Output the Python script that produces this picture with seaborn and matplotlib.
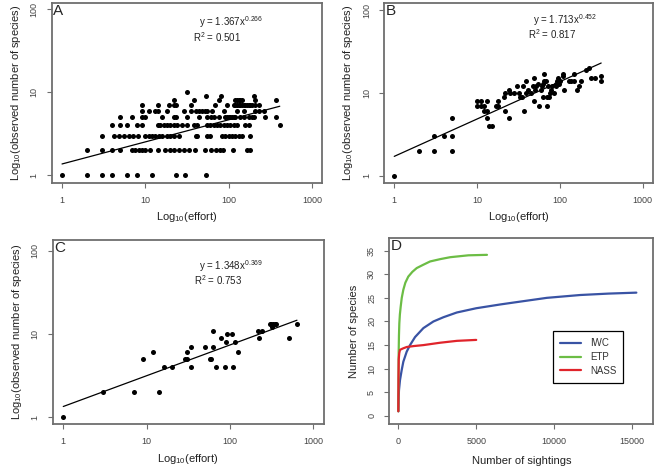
import numpy as np
import pandas as pd
import matplotlib
matplotlib.use('Agg')
import matplotlib.pyplot as plt
import seaborn as sns

# ---- data ----
# panel A: effort values grouped by observed species count
a_rows = {
    1: [1, 2, 3, 4, 6, 8, 12, 23, 30, 53],
    2: [2, 3, 4, 5, 7, 7.6, 8.3, 9, 10, 11.5, 14, 17.4, 20, 22, 25, 29, 33, 39, 52,
        61, 71, 79, 86, 113, 166, 179],
    3: [3, 4.2, 4.8, 5.5, 6.3, 7.2, 8.2, 10, 11, 12, 13, 14.5, 15.8, 18.2, 20, 22, 25,
        40, 42, 55, 59, 83, 91, 100, 110, 120, 132, 145, 182],
    4: [4, 5, 6, 8, 9, 14, 15, 16.6, 18, 20, 22, 24, 27.5, 31.6, 38, 42, 55, 60, 66,
        72, 79, 87, 95, 105, 115, 126, 158, 174, 410],
    5: [5, 7, 9, 9.8, 15.8, 22, 23.5, 31.6, 44, 55, 62, 66, 76, 91, 95, 100, 105, 110,
        115, 120, 138, 151, 174, 191, 200, 275, 372],
    6: [9, 11, 13, 14, 18, 29, 35, 40, 44, 48, 52, 55, 63, 87, 126, 151, 209, 229, 263],
    7: [9, 14, 19, 22, 23, 35, 69, 95, 115, 120, 126, 132, 138, 145, 151, 158, 166,
        174, 182, 191, 209, 229],
    8: [22, 38, 76, 120, 126, 132, 138, 145, 209, 372],
    9: [53, 81, 203],
    10: [32],
}

# panel B
effort_b = [1, 2, 3, 3, 4, 5, 5, 5, 10, 10, 11, 11, 12, 12, 13, 13, 13, 14, 15, 17, 18, 18,
            21, 22, 22, 24, 24, 25, 28, 30, 32, 33, 35, 36, 37, 39, 39, 41, 45, 47, 48, 49,
            50, 51, 54, 56, 59, 60, 62, 63, 64, 65, 68, 70, 70, 71, 74, 75, 78, 80, 85, 89,
            90, 93, 95, 98, 100, 110, 110, 112, 129, 135, 148, 150, 162, 170, 178, 205,
            225, 240, 263, 310, 315]
species_b = [1, 2, 2, 3, 3, 2, 3, 5, 7, 8, 8, 7, 7, 6, 8, 6, 5, 4, 4, 7, 7, 8,
             9, 6, 10, 11, 5, 10, 10, 12, 10, 9, 9, 12, 6, 14, 10, 11, 10, 12, 8, 15,
             11, 12, 13, 7, 11, 12, 13, 9, 17, 14, 14, 7, 9, 12, 9, 10, 11, 12, 10, 13,
             12, 14, 15, 13, 14, 17, 16, 11, 14, 14, 17, 14, 11, 12, 14, 19,
             20, 15, 15, 16, 14]

# panel C
effort_c = [1, 3, 7, 9, 12, 14, 16, 20, 29, 31, 31, 34, 34, 50, 57, 60, 62, 62, 68, 78,
            87, 90, 92, 107, 110, 115, 127, 215, 226, 245, 300, 320, 315, 330, 345, 360,
            510, 640]
species_c = [1, 2, 2, 5, 6, 2, 4, 4, 5, 5, 6, 7, 4, 7, 5, 5, 7, 11, 4, 9,
             4, 8, 10, 10, 4, 8, 6, 11, 9, 11, 13, 12, 13, 13, 13, 13,
             9, 13]

# power-law fits (coefficient, exponent, R^2)
fit_a = (1.367, 0.266, 0.501)
fit_b = (1.713, 0.452, 0.817)
fit_c = (1.348, 0.369, 0.753)

# panel D: species accumulation curves
iwc_x = [0, 21, 43, 107, 215, 322, 536, 751, 1073, 1609, 2253, 2897, 3755, 5000, 6545,
         7390, 9535, 11680, 13500, 15280]
iwc_y = [1, 4.1, 5.5, 7.6, 9.7, 11.5, 13.6, 15.0, 16.7, 18.6, 20.0, 20.9, 21.9, 22.8, 23.6,
         24.0, 25.0, 25.6, 25.9, 26.1]
etp_x = [0, 20, 40, 64, 100, 150, 220, 320, 450, 640, 900, 1180, 1600, 2040, 2700, 3330,
         4500, 5690]
etp_y = [1, 13, 17, 19.6, 21.5, 23.1, 25, 26.7, 28.2, 29.5, 30.5, 31.3, 32.0, 32.7, 33.2,
         33.6, 34.0, 34.1]
nass_x = [0, 10, 25, 60, 107, 300, 540, 1000, 1610, 2680, 3760, 5000]
nass_y = [1, 8, 12, 13.3, 14, 14.3, 14.6, 14.8, 15.0, 15.5, 15.9, 16.1]

# ---- style ----
sns.set_theme(style='ticks')
plt.rcParams['font.family'] = ['Liberation Sans', 'DejaVu Sans']
plt.rcParams['mathtext.fontset'] = 'custom'
plt.rcParams['mathtext.rm'] = 'Liberation Sans'
plt.rcParams['mathtext.it'] = 'Liberation Sans:italic'

spine_col = '#6e6e6e'
tick_col = '#444444'

fig = plt.figure(figsize=(6.61, 4.69), dpi=100)
ax_a = fig.add_axes([0.0787, 0.6104, 0.4085, 0.3825])
ax_b = fig.add_axes([0.5814, 0.6104, 0.4060, 0.3825])
ax_c = fig.add_axes([0.0797, 0.0953, 0.4104, 0.3930])
ax_d = fig.add_axes([0.5890, 0.0953, 0.3994, 0.3966])


def frame(ax):
    for sp in ax.spines.values():
        sp.set_visible(True)
        sp.set_color(spine_col)
        sp.set_linewidth(1.3)
    ax.tick_params(axis='both', which='both', colors=spine_col, labelcolor=tick_col,
                   labelsize=6.5, length=3.5, width=0.8, pad=6)
    for lab in ax.get_yticklabels():
        lab.set_rotation(90)
        lab.set_va('center')


def loglog_panel(ax, df, fit, letter, ylim_log, xlim_log):
    sns.scatterplot(data=df, x='effort', y='species', ax=ax, color='black', s=13,
                    linewidth=0, legend=False)
    k, b, r2 = fit
    xs = np.logspace(0, np.log10(df['effort'].max()), 50)
    ax.plot(xs, k * xs ** b, color='black', lw=0.9)
    ax.set_xscale('log')
    ax.set_yscale('log')
    ax.set_xlim(10 ** xlim_log[0], 10 ** xlim_log[1])
    ax.set_ylim(10 ** ylim_log[0], 10 ** ylim_log[1])
    ax.set_xticks([1, 10, 100, 1000], labels=['1', '10', '100', '1000'])
    ax.set_yticks([1, 10, 100], labels=['1', '10', '100'])
    ax.minorticks_off()
    ax.set_xlabel('Log$_{10}$(effort)', fontsize=8, color='#222222', labelpad=4)
    ax.set_ylabel('Log$_{10}$(observed number of species)', fontsize=8, color='#222222',
                  labelpad=5)
    ax.text(0.005, 0.995, letter, transform=ax.transAxes, ha='left', va='top', fontsize=11)
    frame(ax)
    return k, b, r2


df_a = pd.DataFrame([(x, y) for y, xs in a_rows.items() for x in xs],
                    columns=['effort', 'species'])
df_b = pd.DataFrame({'effort': effort_b, 'species': species_b})
df_c = pd.DataFrame({'effort': effort_c, 'species': species_c})

loglog_panel(ax_a, df_a, fit_a, 'A', (-0.09, 2.07), (-0.12, 3.12))
loglog_panel(ax_b, df_b, fit_b, 'B', (-0.085, 2.085), (-0.12, 3.12))
loglog_panel(ax_c, df_c, fit_c, 'C', (-0.084, 2.128), (-0.127, 3.13))

for ax, fit, ex, ey, rx, ry in [(ax_a, fit_a, 0.663, 0.896, 0.61, 0.81),
                                (ax_b, fit_b, 0.673, 0.905, 0.625, 0.826),
                                (ax_c, fit_c, 0.657, 0.86, 0.61, 0.78)]:
    ax.text(ex, ey, f'y = {fit[0]:.3f}x$^{{{fit[1]:.3f}}}$', transform=ax.transAxes,
            ha='center', va='center', fontsize=7, color='#222222')
    ax.text(rx, ry, f'R$^2$ = {fit[2]:.3f}', transform=ax.transAxes,
            ha='center', va='center', fontsize=7, color='#222222')

# ---- panel D ----
curves = pd.concat([
    pd.DataFrame({'sightings': iwc_x, 'species': iwc_y, 'survey': 'IWC'}),
    pd.DataFrame({'sightings': etp_x, 'species': etp_y, 'survey': 'ETP'}),
    pd.DataFrame({'sightings': nass_x, 'species': nass_y, 'survey': 'NASS'}),
])
pal = {'IWC': '#3953a4', 'ETP': '#6cbd45', 'NASS': '#e0242b'}
sns.lineplot(data=curves, x='sightings', y='species', hue='survey',
             hue_order=['IWC', 'ETP', 'NASS'], palette=pal, estimator=None, sort=False,
             lw=1.6, ax=ax_d)
ax_d.set_xlim(-578, 16370)
ax_d.set_ylim(-1.76, 37.6)
ax_d.set_xticks([0, 5000, 10000, 15000])
ax_d.set_yticks(range(0, 36, 5))
ax_d.set_xlabel('Number of sightings', fontsize=8, color='#222222', labelpad=7)
ax_d.set_ylabel('Number of species', fontsize=8, color='#222222', labelpad=6)
ax_d.text(0.005, 0.995, 'D', transform=ax_d.transAxes, ha='left', va='top', fontsize=11)
frame(ax_d)
leg = ax_d.legend(loc='upper left', bbox_to_anchor=(0.62, 0.50), fontsize=7,
                  fancybox=False, edgecolor='black', framealpha=1, handlelength=2.2,
                  borderpad=0.7, labelspacing=0.4, handletextpad=0.9, borderaxespad=0)
leg.get_frame().set_linewidth(0.9)
for t in leg.get_texts():
    t.set_color('#333333')

fig.savefig('out.png', dpi=100)
